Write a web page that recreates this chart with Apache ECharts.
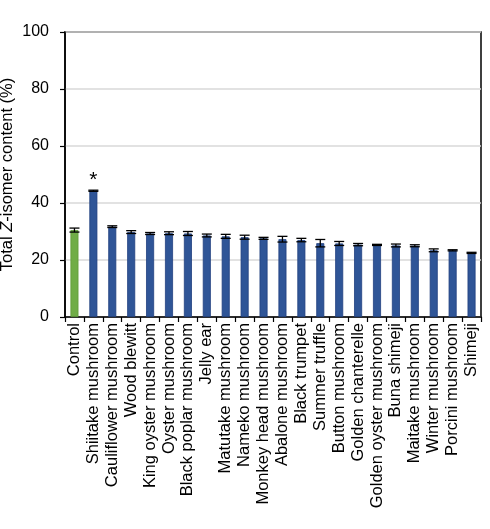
<!DOCTYPE html>
<html>
<head>
<meta charset="utf-8">
<script src="https://cdn.jsdelivr.net/npm/echarts@6/dist/echarts.min.js"></script>
<style>html,body{margin:0;padding:0;background:#fff;}#c{width:490px;height:529px;}</style>
</head>
<body>
<div id="c"></div>
<script>
var categories = ['Control','Shiitake mushroom','Cauliflower mushroom','Wood blewitt','King oyster mushroom','Oyster mushroom','Black poplar mushroom','Jelly ear','Matutake mushroom','Nameko mushroom','Monkey head mushroom','Abalone mushroom','Black trumpet','Summer truffle','Button mushroom','Golden chanterelle','Golden oyster mushroom','Buna shimeji','Maitake mushroom','Winter mushroom','Porcini mushroom','Shimeji'];
var values = [30.5, 44.3, 31.7, 29.8, 29.3, 29.4, 29.3, 28.6, 28.3, 28.0, 27.6, 27.3, 27.0, 25.9, 25.8, 25.4, 25.3, 25.1, 25.0, 23.4, 23.4, 22.5];
var errors = [0.7, 0.2, 0.3, 0.5, 0.35, 0.5, 0.7, 0.5, 0.7, 0.7, 0.35, 1.0, 0.6, 1.3, 0.7, 0.4, 0.2, 0.5, 0.35, 0.5, 0.2, 0.2];
var significant = [1];
var yTicks = [0, 20, 40, 60, 80, 100];

var FONT = 'Liberation Sans, Arial, Helvetica, sans-serif';
var barData = values.map(function (v, i) {
  var item = {
    value: v,
    itemStyle: i === 0 ? { color: '#70AD47', borderColor: '#5E9A38', borderWidth: 0.8 } : { color: '#2F5597', borderColor: '#1F3F7F', borderWidth: 0.8 }
  };
  if (significant.indexOf(i) >= 0) {
    item.label = { show: true, position: 'top', distance: 0, formatter: '*', fontSize: 21, color: '#000', fontFamily: FONT };
  }
  return item;
});
var errData = values.map(function (v, i) { return [i, v - errors[i], v + errors[i]]; });

var chart = echarts.init(document.getElementById('c'));
chart.setOption({
  backgroundColor: '#fff',
  animation: false,
  grid: { left: 65, right: 9, top: 32, bottom: 212, containLabel: false, outerBoundsMode: 'none', show: true, borderColor: '#000', borderWidth: 1.5, backgroundColor: 'transparent' },
  xAxis: {
    type: 'category',
    data: categories,
    axisLine: { lineStyle: { color: '#000', width: 1.5 } },
    axisTick: { show: true, length: 5, lineStyle: { color: '#000', width: 1.2 } },
    axisLabel: { rotate: 90, interval: 0, margin: 6, fontSize: 16.5, color: '#000', fontFamily: FONT }
  },
  yAxis: {
    type: 'value',
    min: yTicks[0], max: yTicks[yTicks.length - 1], interval: 20,
    name: '{a|Total }{b|Z}{a|-isomer content (%)}',
    nameLocation: 'middle',
    nameMoveOverlap: false,
    nameGap: 49,
    nameTextStyle: {
      rich: {
        a: { fontSize: 16.5, color: '#000', fontFamily: FONT },
        b: { fontSize: 16.5, color: '#000', fontFamily: FONT, fontStyle: 'italic' }
      }
    },
    axisLine: { show: true, lineStyle: { color: '#000', width: 1.5 } },
    axisTick: { show: true, length: 5, lineStyle: { color: '#000', width: 1.2 } },
    axisLabel: { margin: 16, fontSize: 16, color: '#000', fontFamily: FONT },
    splitLine: { show: true, lineStyle: { color: '#d9d9d9', width: 1.5 } }
  },
  series: [
    {
      type: 'bar',
      data: barData,
      barWidth: 8,
      z: 2
    },
    {
      type: 'custom',
      z: 3,
      data: errData,
      renderItem: function (params, api) {
        var x = api.value(0);
        var lo = api.coord([x, api.value(1)]);
        var hi = api.coord([x, api.value(2)]);
        var half = 5;
        var style = { stroke: '#000', lineWidth: 1.3 };
        return {
          type: 'group',
          children: [
            { type: 'line', shape: { x1: hi[0], y1: hi[1], x2: lo[0], y2: lo[1] }, style: style },
            { type: 'line', shape: { x1: hi[0] - half, y1: hi[1], x2: hi[0] + half, y2: hi[1] }, style: style },
            { type: 'line', shape: { x1: lo[0] - half, y1: lo[1], x2: lo[0] + half, y2: lo[1] }, style: style }
          ]
        };
      }
    }
  ]
});
</script>
</body>
</html>
